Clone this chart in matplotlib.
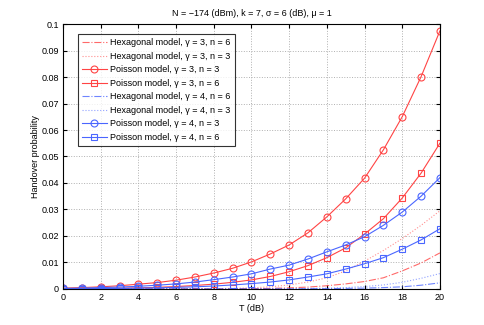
import matplotlib
matplotlib.use("Agg")
import matplotlib.pyplot as plt
import numpy as np

plt.rcParams["font.family"] = ["Liberation Sans", "DejaVu Sans"]

T = list(range(0, 21))

# hexagonal model curves
hex_g3_n6 = [0, 0, 0, 0, 0, 0, 0, 0, 0, 0, 0.0001, 0.0002, 0.0004, 0.0007,
             0.0012, 0.0019, 0.0028, 0.0042, 0.0068, 0.0098, 0.0136]
hex_g3_n3 = [0, 0, 0, 0, 0, 0, 0, 0, 0.0001, 0.0002, 0.0004, 0.0008, 0.0015,
             0.0026, 0.0042, 0.0068, 0.0105, 0.0145, 0.0190, 0.0240, 0.0295]
hex_g4_n6 = [0, 0, 0, 0, 0, 0, 0, 0, 0, 0, 0, 0, 0, 0.0001, 0.0001,
             0.0002, 0.0003, 0.0005, 0.0008, 0.0014, 0.0023]
hex_g4_n3 = [0, 0, 0, 0, 0, 0, 0, 0, 0, 0, 0, 0.0001, 0.0001, 0.0002, 0.0003,
             0.0005, 0.0009, 0.0015, 0.0025, 0.0040, 0.0058]

# poisson model curves
poi_g3_n3 = [0.0003, 0.0005, 0.0008, 0.0012, 0.0018, 0.0024, 0.0033, 0.0045,
             0.0060, 0.0078, 0.0102, 0.0132, 0.0166, 0.0212, 0.0272, 0.0340,
             0.0418, 0.0525, 0.0650, 0.0801, 0.0974]
poi_g3_n6 = [0.0001, 0.0001, 0.0002, 0.0003, 0.0004, 0.0006, 0.0009, 0.0013,
             0.0018, 0.0025, 0.0034, 0.0047, 0.0065, 0.0088, 0.0118, 0.0155,
             0.0207, 0.0265, 0.0343, 0.0437, 0.0550]
poi_g4_n3 = [0.0002, 0.0003, 0.0005, 0.0007, 0.0010, 0.0014, 0.0019, 0.0026,
             0.0035, 0.0045, 0.0057, 0.0075, 0.0090, 0.0113, 0.0140, 0.0166,
             0.0197, 0.0240, 0.0290, 0.0350, 0.0420]
poi_g4_n6 = [0.0001, 0.0001, 0.00015, 0.0002, 0.0003, 0.0004, 0.0006, 0.0008,
             0.0011, 0.0015, 0.0020, 0.0026, 0.0034, 0.0045, 0.0057, 0.0075,
             0.0095, 0.0118, 0.0150, 0.0185, 0.0227]

red = "#ff4444"
blue = "#4a66ff"

fig = plt.figure(figsize=(4.85, 3.25), dpi=100)
ax = fig.add_axes([0.130, 0.111, 0.777, 0.815])

lw = 0.8
ax.plot(T, hex_g3_n6, color=red, ls="-.", lw=lw, alpha=0.8,
        label="Hexagonal model, \u03b3 = 3, n = 6")
ax.plot(T, hex_g3_n3, color=red, ls=":", lw=lw, alpha=0.6,
        label="Hexagonal model, \u03b3 = 3, n = 3")
ax.plot(T, poi_g3_n3, color=red, ls="-", lw=lw, marker="o", ms=5,
        mfc="none", mew=0.8, label="Poisson model, \u03b3 = 3, n = 3")
ax.plot(T, poi_g3_n6, color=red, ls="-", lw=lw, marker="s", ms=4.5,
        mfc="none", mew=0.8, label="Poisson model, \u03b3 = 3, n = 6")
ax.plot(T, hex_g4_n6, color=blue, ls="-.", lw=lw, alpha=0.8,
        label="Hexagonal model, \u03b3 = 4, n = 6")
ax.plot(T, hex_g4_n3, color=blue, ls=":", lw=lw, alpha=0.6,
        label="Hexagonal model, \u03b3 = 4, n = 3")
ax.plot(T, poi_g4_n3, color=blue, ls="-", lw=lw, marker="o", ms=5,
        mfc="none", mew=0.8, label="Poisson model, \u03b3 = 4, n = 3")
ax.plot(T, poi_g4_n6, color=blue, ls="-", lw=lw, marker="s", ms=4.5,
        mfc="none", mew=0.8, label="Poisson model, \u03b3 = 4, n = 6")

ax.set_xlim(0, 20)
ax.set_ylim(0, 0.1)
ax.set_xticks(range(0, 21, 2))
yt = np.arange(0, 0.101, 0.01)
ax.set_yticks(yt)
ax.set_yticklabels(["0"] + [f"{v:.2f}" for v in yt[1:-1]] + ["0.1"])
ax.tick_params(direction="in", top=True, right=True, labelsize=6.5, length=3, pad=3)
ax.grid(True, ls=":", color="#b0b0b0", lw=0.7)
for s in ax.spines.values():
    s.set_linewidth(0.8)

ax.set_xlabel("T (dB)", fontsize=6.5, labelpad=1.5)
ax.set_ylabel("Handover probability", fontsize=6.5, labelpad=1)
ax.set_title("N = \u2212174 (dBm), k = 7, \u03c3 = 6 (dB), \u03bc = 1", fontsize=6.5, pad=6)

leg = ax.legend(loc="upper left", bbox_to_anchor=(0.04, 0.962), fontsize=6.5,
                frameon=True, fancybox=False, edgecolor="black",
                handlelength=2.7, handletextpad=0.4, labelspacing=0.5,
                borderpad=0.45, borderaxespad=0, markerfirst=True)
leg.get_frame().set_linewidth(0.8)

fig.savefig("out.png", dpi=100)
